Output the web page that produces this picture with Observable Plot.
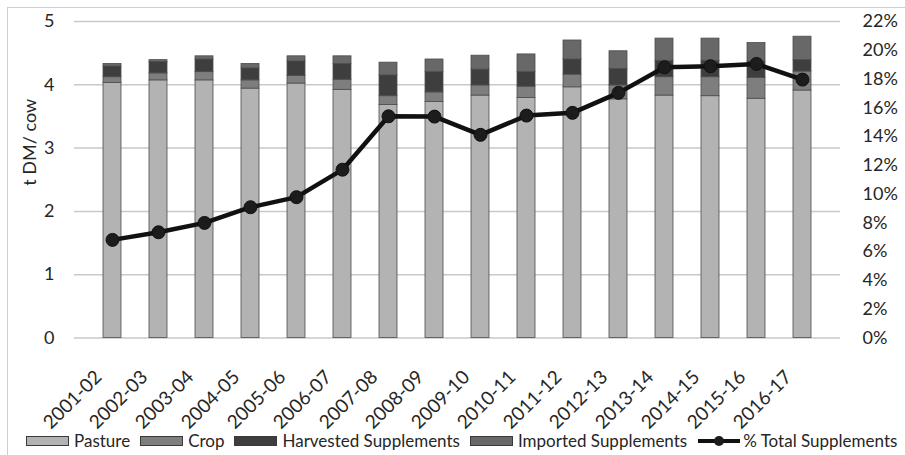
<!DOCTYPE html>
<html>
<head>
<meta charset="utf-8">
<script src="https://cdn.jsdelivr.net/npm/d3@7"></script>
<script src="https://cdn.jsdelivr.net/npm/@observablehq/plot@0.6"></script>
<style>
  body { margin: 0; background: #fff; font-family: Lato, "Open Sans", sans-serif; }
  #chart { position: relative; width: 905px; height: 455px; overflow: hidden; background: #fff; }
  #frame { position: absolute; left: 7px; top: 7px; width: 1000px; height: 1000px;
           border-left: 1.5px solid #cfcfcf; border-top: 1.5px solid #cfcfcf; }
  #plot { position: absolute; left: 0; top: 0; }
  #legend { position: absolute; left: 26px; top: 430px; display: flex; align-items: center;
            font-size: 17px; color: #262626; white-space: nowrap; }
  #legend .item { display: flex; align-items: center; margin-right: 10px; }
  #legend svg { margin-right: 5px; }
</style>
</head>
<body>
<div id="chart">
  <div id="frame"></div>
  <div id="plot"></div>
  <div id="legend"></div>
</div>
<script>
// Dry matter intake per cow by feed source, by season (t DM / cow)
const seasons = ["2001-02","2002-03","2003-04","2004-05","2005-06","2006-07","2007-08","2008-09",
                 "2009-10","2010-11","2011-12","2012-13","2013-14","2014-15","2015-16","2016-17"];
const pasture   = [4.03,4.07,4.07,3.94,4.02,3.92,3.68,3.73,3.83,3.79,3.96,3.77,3.83,3.82,3.78,3.91];
const crop      = [0.09,0.11,0.13,0.13,0.12,0.16,0.14,0.15,0.16,0.18,0.20,0.22,0.29,0.30,0.33,0.30];
const harvested = [0.17,0.18,0.20,0.19,0.23,0.25,0.33,0.32,0.25,0.23,0.24,0.26,0.26,0.26,0.26,0.18];
const imported  = [0.04,0.03,0.05,0.07,0.08,0.12,0.20,0.20,0.22,0.28,0.30,0.28,0.35,0.35,0.29,0.37];
// Share of total intake from supplements (%), right axis
const pctTotal  = [6.82,7.35,8.00,9.09,9.79,11.70,15.41,15.39,14.12,15.46,15.65,17.04,18.82,18.89,19.05,17.96];

const sources = ["Pasture","Crop","Harvested Supplements","Imported Supplements"];
const lineName = "% Total Supplements";
const leftTicks = [0,1,2,3,4,5];
const pctTicks = [0,2,4,6,8,10,12,14,16,18,20,22];

const sourceColors = ["#b3b3b3","#7e7e7e","#3e3e3e","#686868"];
const font = "Lato, 'Open Sans', sans-serif";

// right axis: 22% sits level with 5 t DM on the left axis
const pctToY = 5 / 22;

const seriesValues = [pasture, crop, harvested, imported];
const rows = seasons.flatMap((season, i) =>
  sources.map((source, k) => ({season, source, value: seriesValues[k][i]})));
const linePts = seasons.map((season, i) => ({season, pct: pctTotal[i]}));

const chart = Plot.plot({
  width: 905,
  height: 425,
  marginLeft: 74,
  marginRight: 65,
  marginTop: 21,
  marginBottom: 87.5,
  style: {fontFamily: font, fontSize: "18px", color: "#262626", background: "transparent", overflow: "visible"},
  x: {domain: seasons, padding: 0.61, label: null},
  y: {domain: [0, 5], label: null},
  color: {domain: sources, range: sourceColors},
  marks: [
    Plot.ruleY(leftTicks, {stroke: "#c9c9c9", strokeWidth: 1.5}),
    Plot.barY(rows, {x: "season", y: "value", fill: "source", stroke: "#4d4d4d", strokeWidth: 0.8}),
    Plot.axisY(leftTicks, {anchor: "left", tickSize: 0, tickPadding: 20, fontSize: 18, tickFormat: d => String(d)}),
    Plot.axisY(pctTicks.map(d => d * pctToY), {
      anchor: "right", tickSize: 0, tickPadding: 22, fontSize: 18,
      tickFormat: d => `${Math.round(d / pctToY)}%`
    }),
    Plot.axisX({tickRotate: -45, tickSize: 0, tickPadding: 14, fontSize: 19, dx: -14, dy: 22}),
    Plot.line(linePts, {x: "season", y: d => d.pct * pctToY, stroke: "#111", strokeWidth: 4.5}),
    Plot.dot(linePts, {x: "season", y: d => d.pct * pctToY, r: 6.5, fill: "#1c1c1c", stroke: "#111", strokeWidth: 1}),
    Plot.text(["t DM/ cow"], {frameAnchor: "left", dx: -44, dy: 6, rotate: -90, fontSize: 18, fill: "#262626"})
  ]
});
document.getElementById("plot").appendChild(chart);

// legend row
const legend = d3.select("#legend");
sources.forEach((name, k) => {
  const item = legend.append("div").attr("class", "item");
  const sw = item.append("svg").attr("width", 43).attr("height", 12);
  sw.append("rect").attr("x", 0.5).attr("y", 1.5).attr("width", 42).attr("height", 9)
    .attr("fill", sourceColors[k]).attr("stroke", "#3a3a3a").attr("stroke-width", 1);
  item.append("span").text(name);
});
const li = legend.append("div").attr("class", "item");
const lsw = li.append("svg").attr("width", 44).attr("height", 14).style("margin-right", "2px");
lsw.append("line").attr("x1", 1).attr("x2", 43).attr("y1", 7).attr("y2", 7)
  .attr("stroke", "#111").attr("stroke-width", 4);
lsw.append("circle").attr("cx", 22).attr("cy", 7).attr("r", 5).attr("fill", "#1c1c1c");
li.append("span").text(lineName);
</script>
</body>
</html>
